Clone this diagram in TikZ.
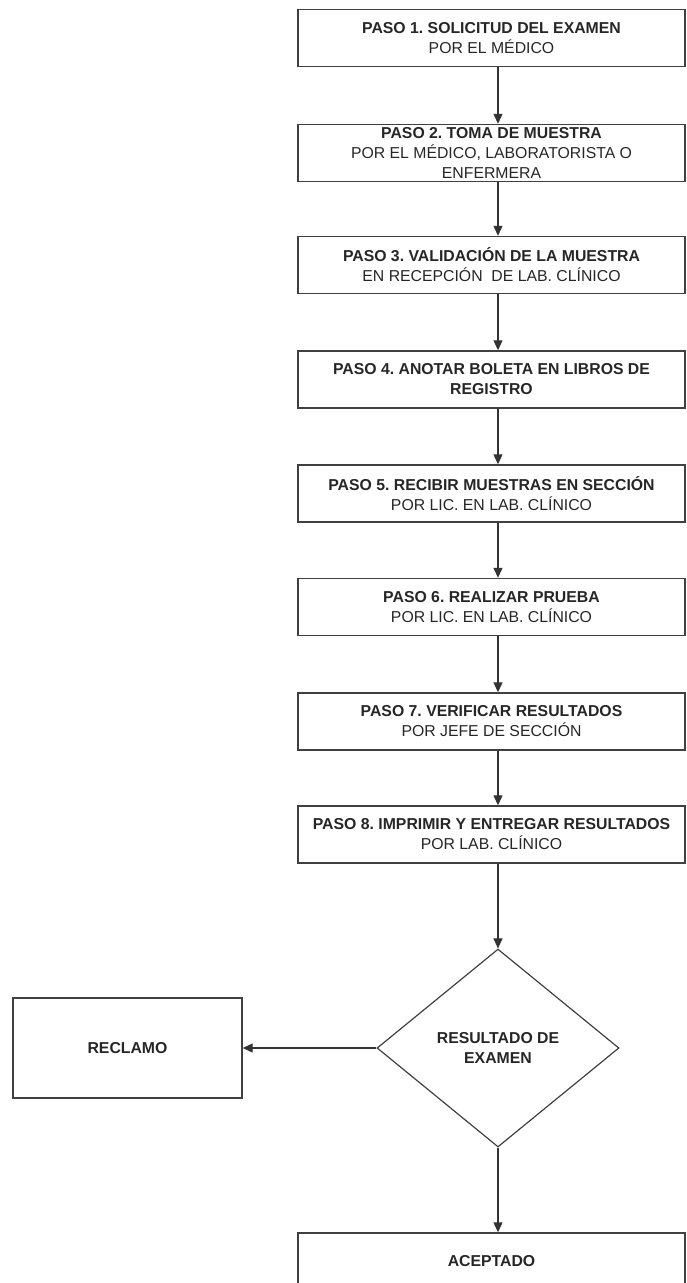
\documentclass[tikz,border=0pt]{standalone}
\usepackage{fontspec}
\setmainfont{Liberation Sans}
\usepackage[]{xcolor}
\usepackage{tikz}
\usetikzlibrary{shapes.geometric,arrows.meta}
\frenchspacing

\begin{document}
\begin{tikzpicture}[x=1pt,y=-1pt,
    pasobox/.style={draw=black!75,line width=1.4pt,minimum width=387pt,minimum height=57pt,
        inner sep=0pt,align=center,text=black!85,font=\fontsize{15.8}{20}\selectfont},
    decision/.style={diamond,draw=black!75,line width=1.2pt,minimum width=242pt,minimum height=198pt,
        inner sep=0pt,align=center,text=black!85,font=\fontsize{15.8}{20}\selectfont\bfseries},
    flecha/.style={draw=black!80,line width=1.1pt,-{Triangle[length=10pt,width=9pt]}}]
    \useasboundingbox (0,0) rectangle (686,1283);
    \clip (0,0) rectangle (686,1283);
    \node[pasobox] (p1) at (491.5,38) {\textbf{PASO 1. SOLICITUD DEL EXAMEN}\\POR EL MÉDICO};
    \node[pasobox] (p2) at (491.5,153) {\textbf{PASO 2. TOMA DE MUESTRA}\\POR EL MÉDICO, LABORATORISTA O\\ENFERMERA};
    \node[pasobox] (p3) at (491.5,265) {\textbf{PASO 3. VALIDACIÓN DE LA MUESTRA}\\EN RECEPCIÓN\ \ DE LAB. CLÍNICO};
    \node[pasobox] (p4) at (491.5,379.5) {\textbf{PASO 4. ANOTAR BOLETA EN LIBROS DE}\\\textbf{REGISTRO}};
    \node[pasobox] (p5) at (491.5,493.5) {\textbf{PASO 5. RECIBIR MUESTRAS EN SECCIÓN}\\POR LIC. EN LAB. CLÍNICO};
    \node[pasobox] (p6) at (491.5,607) {\textbf{PASO 6. REALIZAR PRUEBA}\\POR LIC. EN LAB. CLÍNICO};
    \node[pasobox] (p7) at (491.5,721.5) {\textbf{PASO 7. VERIFICAR RESULTADOS}\\POR JEFE DE SECCIÓN};
    \node[pasobox] (p8) at (491.5,834.5) {\textbf{PASO 8. IMPRIMIR Y ENTREGAR RESULTADOS}\\POR LAB. CLÍNICO};
    \node[decision] (resultado) at (498,1048) {RESULTADO DE\\EXAMEN};
    \node[pasobox,minimum width=229pt,minimum height=100pt,font=\fontsize{15.8}{20}\selectfont\bfseries] (reclamo) at (127.5,1048) {RECLAMO};
    \node[pasobox,font=\fontsize{15.8}{20}\selectfont\bfseries] (aceptado) at (491.5,1261.5) {ACEPTADO};
    \draw[flecha] (resultado |- p1.south) -- (resultado |- p2.north);
    \draw[flecha] (resultado |- p2.south) -- (resultado |- p3.north);
    \draw[flecha] (resultado |- p3.south) -- (resultado |- p4.north);
    \draw[flecha] (resultado |- p4.south) -- (resultado |- p5.north);
    \draw[flecha] (resultado |- p5.south) -- (resultado |- p6.north);
    \draw[flecha] (resultado |- p6.south) -- (resultado |- p7.north);
    \draw[flecha] (resultado |- p7.south) -- (resultado |- p8.north);
    \draw[flecha] (resultado |- p8.south) -- (resultado.north);
    \draw[flecha] (resultado.west) -- (reclamo.east);
    \draw[flecha] (resultado.south) -- (resultado |- aceptado.north);
\end{tikzpicture}
\end{document}
